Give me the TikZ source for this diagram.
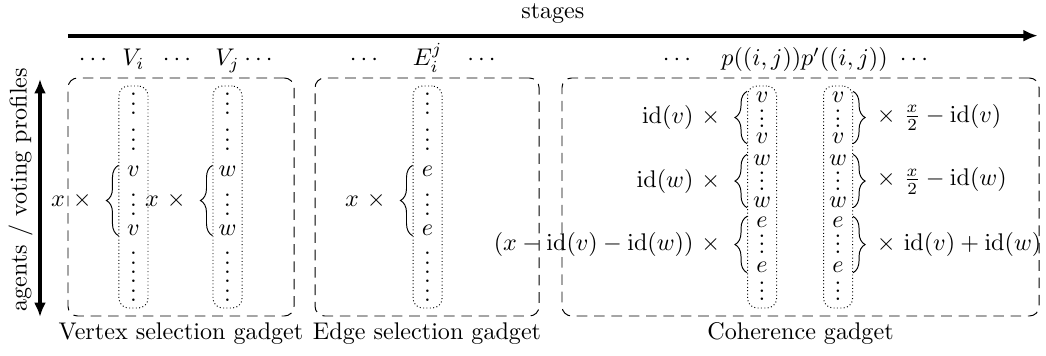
\documentclass[tikz,border=0pt]{standalone}
\usepackage{amsmath}
\usetikzlibrary{arrows.meta, positioning, decorations.pathreplacing}
% vertical dots without the empty space on top
\newcommand{\colvdots}[1]{\vbox{\baselineskip#1\lineskiplimit0pt\hbox{.}\hbox{.}\hbox{.}}}

\begin{document}
\begin{tikzpicture}[
	gadget/.style={rectangle, draw, dash pattern=on 4.4pt off 2.8pt, rounded corners,
	               minimum height=3.47cm, inner sep=0pt},
	col/.style={rectangle, draw, densely dotted, rounded corners, minimum width=0.423cm,
	            minimum height=3.237cm, inner sep=0pt},
	entry/.style={anchor=base, inner sep=0pt},
	toplbl/.style={anchor=base},
	brc/.style={decorate, decoration={brace, amplitude=5pt}},
	axisarr/.style={ultra thick, >={Latex[length=6pt, width=5pt]}}
	]
\useasboundingbox (0,0) rectangle (15.25,-5.19);

% axes
\coordinate (st0) at (0.99,-0.52);
\coordinate (st1) at (15.13,-0.52);
\draw[axisarr, ->] (st0) -- node[above=3.6pt, inner sep=0.5pt] (stages) {stages} (st1);
\coordinate (ag0) at (0.583,-4.622);
\coordinate (ag1) at (0.583,-1.152);
\draw[axisarr, <->] (ag0) -- (ag1);
\node[rotate=90] (agents) at (0.30,-2.763) {agents / voting profiles};

% gadgets
\node[gadget, minimum width=3.295cm] (vsel) at (2.639,-2.872) {};
\node[gadget, minimum width=3.266cm] (esel) at (6.226,-2.872) {};
\node[gadget, minimum width=6.955cm] (coh) at (11.671,-2.872) {};
\node[below=-1pt of vsel] (vsellbl) {Vertex selection gadget};
\node[below=-1pt of esel] (esellbl) {Edge selection gadget};
\node[below=-1pt of coh] (cohlbl) {Coherence gadget};

% columns of the selection gadgets
\foreach \ci/\cx/\cl in {ca/1.946/v, cb/3.317/w, cc/6.233/e} {
	\node[col] (\ci) at (\cx,-2.872) {};
	\foreach \ei/\ey/\et in {1/1.675/\colvdots{4pt}, 2/2.200/\colvdots{4pt}, 3/2.569/\cl,
	                         4/3.148/\colvdots{4pt}, 5/3.429/\cl, 6/3.993/\colvdots{4pt},
	                         7/4.402/\colvdots{4pt}}
		\node[entry] (\ci\ei) at (\cx,-\ey) {$\et$};
}
% columns of the coherence gadget
\foreach \ci/\cx in {cd/11.110, ce/12.218} {
	\node[col] (\ci) at (\cx,-2.872) {};
	\foreach \ei/\ey/\et in {1/1.490/v, 2/1.866/\colvdots{3.2pt}, 3/2.088/v, 4/2.409/w,
	                         5/2.770/\colvdots{3.2pt}, 6/3.021/w, 7/3.313/e,
	                         8/3.689/\colvdots{3.2pt}, 9/3.969/e, 10/4.374/\colvdots{3.2pt}}
		\node[entry] (\ci\ei) at (\cx,-\ey) {$\et$};
}

% stage labels
\node[toplbl] (da) at (1.385,-0.962) {$\cdots$};
\node[toplbl] (vi) at (1.946,-0.962) {$V_i$};
\node[toplbl] (db) at (2.610,-0.962) {$\cdots$};
\node[toplbl] (vj) at (3.317,-0.962) {$V_j$};
\node[toplbl] (dc) at (3.798,-0.962) {$\cdots$};
\node[toplbl] (dd) at (5.336,-0.962) {$\cdots$};
\node[toplbl] (eij) at (6.233,-0.962) {$E_i^j$};
\node[toplbl] (de) at (7.050,-0.962) {$\cdots$};
\node[toplbl] (df) at (9.900,-0.962) {$\cdots$};
\node[toplbl] (pij) at (11.100,-0.962) {$p((i,j))$};
\node[toplbl] (pij2) at (12.310,-0.962) {$p'((i,j))$};
\node[toplbl] (dg) at (13.355,-0.962) {$\cdots$};

% braces
\draw[brc] (ca5.south -| ca.west) -- (ca3.north -| ca.west) node[midway, left=7.6pt] (xa) {$x\ \times$};
\draw[brc] (cb5.south -| cb.west) -- (cb3.north -| cb.west) node[midway, left=7.6pt] (xb) {$x\ \times$};
\draw[brc] (cc5.south -| cc.west) -- (cc3.north -| cc.west) node[midway, left=7.6pt] (xc) {$x\ \times$};
\draw[brc] (cd3.south -| cd.west) -- (cd1.north -| cd.west) node[midway, left=7.6pt] (lv) {$\mathrm{id}(v)\ \times$};
\draw[brc] (cd6.south -| cd.west) -- (cd4.north -| cd.west) node[midway, left=7.6pt] (lw) {$\mathrm{id}(w)\ \times$};
\draw[brc] (cd9.south -| cd.west) -- (cd7.north -| cd.west) node[midway, left=7.6pt] (le) {$(x-\mathrm{id}(v)-\mathrm{id}(w))\ \times$};
\draw[brc] (ce1.north -| ce.east) -- (ce3.south -| ce.east) node[midway, right=6.4pt] (rv) {$\times\ \frac{x}{2}-\mathrm{id}(v)$};
\draw[brc] (ce4.north -| ce.east) -- (ce6.south -| ce.east) node[midway, right=6.4pt] (rw) {$\times\ \frac{x}{2}-\mathrm{id}(w)$};
\draw[brc] (ce7.north -| ce.east) -- (ce9.south -| ce.east) node[midway, right=6.4pt] (re) {$\times\ \mathrm{id}(v)+\mathrm{id}(w)$};
\end{tikzpicture}
\end{document}
